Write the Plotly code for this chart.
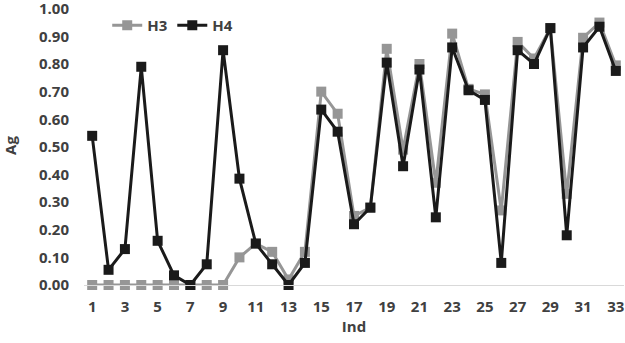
import plotly.graph_objects as go

ind = list(range(1, 34))
h3 = [0.00, 0.00, 0.00, 0.00, 0.00, 0.00, 0.00, 0.00, 0.00, 0.10,
      0.15, 0.12, 0.02, 0.12, 0.70, 0.62, 0.25, 0.28, 0.855, 0.49,
      0.80, 0.37, 0.91, 0.71, 0.69, 0.27, 0.88, 0.82, 0.93, 0.33,
      0.895, 0.95, 0.795]
h4 = [0.54, 0.055, 0.13, 0.79, 0.16, 0.035, 0.00, 0.075, 0.85, 0.385,
      0.15, 0.075, 0.00, 0.08, 0.635, 0.555, 0.22, 0.28, 0.805, 0.43,
      0.78, 0.245, 0.86, 0.705, 0.67, 0.08, 0.85, 0.80, 0.93, 0.18,
      0.86, 0.935, 0.775]
x_ticks = list(range(1, 34, 2))
y_ticks = [round(i * 0.1, 1) for i in range(11)]

font_family = "Open Sans"
text_color = "#404040"
bold = dict(family=font_family, size=15, color=text_color, weight="bold")

fig = go.Figure()
fig.add_trace(go.Scatter(x=ind, y=h3, name="H3", mode="lines+markers",
                         line=dict(color="#969696", width=3),
                         marker=dict(symbol="square", size=10, color="#969696"),
                         cliponaxis=False))
fig.add_trace(go.Scatter(x=ind, y=h4, name="H4", mode="lines+markers",
                         line=dict(color="#1a1a1a", width=3),
                         marker=dict(symbol="square", size=10, color="#1a1a1a"),
                         cliponaxis=False))

fig.update_layout(
    width=625, height=343,
    margin=dict(l=84, r=1, t=6, b=58, autoexpand=False),
    paper_bgcolor="white", plot_bgcolor="white",
    font=dict(family=font_family, size=15, color=text_color),
    showlegend=True,
    legend=dict(orientation="h", x=0.043, y=0.93, xanchor="left", yanchor="middle",
                font=bold, bgcolor="rgba(0,0,0,0)", itemwidth=30, tracegroupgap=0),
)
fig.update_xaxes(range=[0.5, 33.5], tickvals=x_ticks, ticktext=[str(v) for v in x_ticks],
                 showgrid=False, zeroline=False, showline=True, linecolor="#d9d9d9", linewidth=1,
                 ticks="", ticklabelstandoff=8, automargin=False, ticklabeloverflow="allow",
                 tickfont=bold,
                 title=dict(text="Ind", standoff=6, font=bold))
fig.update_yaxes(range=[0, 1.01], tickvals=y_ticks, tickformat=".2f",
                 showgrid=False, zeroline=False, showline=False,
                 ticks="", ticklabelstandoff=14, automargin=False, ticklabeloverflow="allow",
                 tickfont=bold,
                 title=dict(text="Ag", standoff=20, font=bold))

fig.write_html("out.html", config={"displayModeBar": False},
               post_script="document.body.style.margin='0';document.body.style.overflow='hidden';")
